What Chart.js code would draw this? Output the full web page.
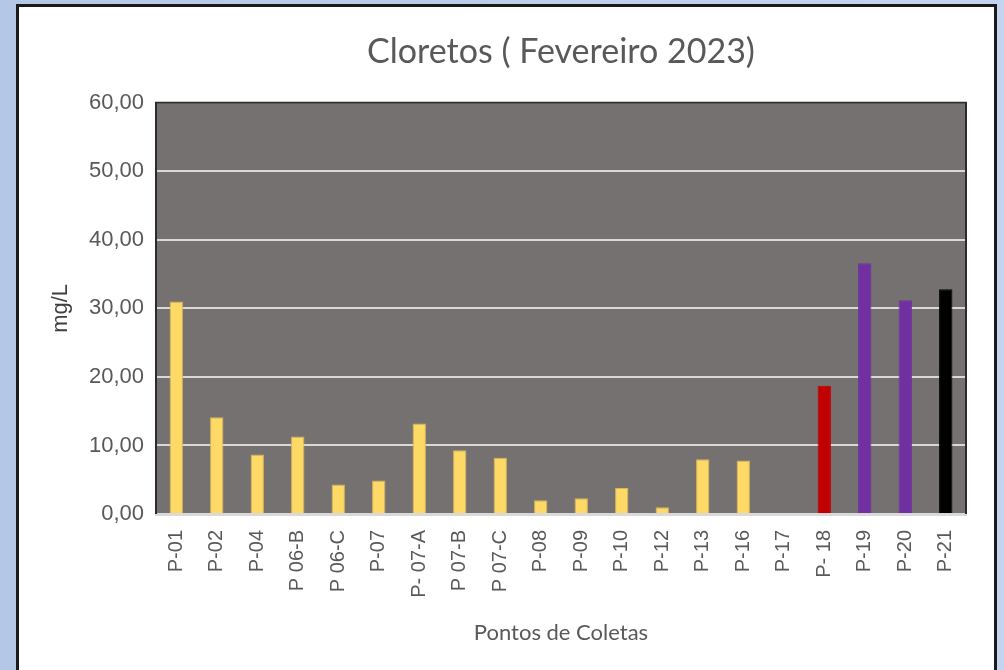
<!DOCTYPE html>
<html>
<head>
<meta charset="utf-8">
<script src="https://cdn.jsdelivr.net/npm/chart.js@4"></script>
<style>
  html, body { margin: 0; padding: 0; }
  body {
    width: 1004px; height: 670px; overflow: hidden; position: relative;
    background: linear-gradient(to right, #b4c7e7, #c5d4ee);
  }
  #panel {
    position: absolute; left: 16px; top: 4px; width: 975px; height: 700px;
    background: #fff; border: 3px solid #1a1a1a;
  }
  #wrap { position: absolute; left: 0; top: 0; width: 1004px; height: 670px; }
</style>
</head>
<body>
<div id="panel"></div>
<div id="wrap"><canvas id="chart-cloretos" width="1004" height="670"></canvas></div>
<script>
const categories = ['P-01', 'P-02', 'P-04', 'P 06-B', 'P 06-C', 'P-07', 'P- 07-A', 'P 07-B', 'P 07-C', 'P-08',
  'P-09', 'P-10', 'P-12', 'P-13', 'P-16', 'P-17', 'P- 18', 'P-19', 'P-20', 'P-21'];
const cloretos = [31.0, 14.1, 8.7, 11.3, 4.3, 4.9, 13.2, 9.3, 8.2, 2.0,
  2.3, 3.8, 1.0, 8.0, 7.8, 0, 18.7, 36.6, 31.2, 32.8];
const yTicks = [0, 10, 20, 30, 40, 50, 60];

// cor de cada barra
const barColors = categories.map((c, i) => i < 16 ? '#ffd966' : i === 16 ? '#c00000' : i < 19 ? '#7030a0' : '#000000');
const barBorders = barColors.map(c => c === '#ffd966' ? '#d6b656' : c);

// fundo cinza da área do gráfico + borda escura (topo, esquerda, direita)
const plotBg = {
  id: 'plotBg',
  beforeDraw(chart) {
    const { ctx, chartArea: a } = chart;
    ctx.save();
    ctx.fillStyle = '#767171';
    ctx.fillRect(a.left, a.top, a.right - a.left, a.bottom - a.top);
    ctx.restore();
  },
  afterDraw(chart) {
    const { ctx, chartArea: a } = chart;
    ctx.save();
    ctx.strokeStyle = '#2b2b2b';
    ctx.lineWidth = 2;
    ctx.beginPath();
    ctx.moveTo(a.left, a.bottom);
    ctx.lineTo(a.left, a.top);
    ctx.lineTo(a.right, a.top);
    ctx.lineTo(a.right, a.bottom);
    ctx.stroke();
    ctx.restore();
  }
};

new Chart(document.getElementById('chart-cloretos').getContext('2d'), {
  type: 'bar',
  data: {
    labels: categories,
    datasets: [{
      label: 'Cloretos',
      data: cloretos,
      backgroundColor: barColors,
      borderColor: barBorders,
      borderWidth: 1,
      barPercentage: 0.33,
      categoryPercentage: 1
    }]
  },
  options: {
    responsive: false,
    animation: false,
    layout: { padding: { left: 48, right: 38, top: 32, bottom: 14 } },
    plugins: {
      legend: { display: false },
      tooltip: { enabled: false },
      title: {
        display: true,
        fullSize: false,
        text: 'Cloretos ( Fevereiro 2023)',
        color: '#595959',
        font: { family: 'Lato', size: 34, weight: 'normal' },
        padding: { top: 0, bottom: 30 }
      }
    },
    scales: {
      x: {
        grid: { display: false },
        border: { display: true, color: '#d9d9d9', width: 3 },
        ticks: {
          color: '#595959',
          font: { family: 'Liberation Sans', size: 20 },
          minRotation: 90, maxRotation: 90,
          autoSkip: false,
          padding: 8
        },
        title: {
          display: true,
          text: 'Pontos de Coletas',
          color: '#595959',
          font: { family: 'Lato', size: 22 },
          padding: { top: 4, bottom: 10 }
        },
        afterFit(scale) { scale.height = 142; }
      },
      y: {
        min: 0, max: 60,
        afterBuildTicks(scale) { scale.ticks = yTicks.map(v => ({ value: v })); },
        grid: { color: '#d9d9d9', lineWidth: 2, drawTicks: false },
        border: { display: false },
        ticks: {
          color: '#595959',
          font: { family: 'Liberation Sans', size: 22 },
          padding: 12,
          callback: v => v.toFixed(2).replace('.', ',')
        },
        title: {
          display: true,
          text: 'mg/L',
          color: '#404040',
          font: { family: 'Liberation Sans', size: 22 },
          padding: { top: 0, bottom: 0 }
        },
        afterFit(scale) { scale.width = 108; }
      }
    }
  },
  plugins: [plotBg]
});
</script>
</body>
</html>
